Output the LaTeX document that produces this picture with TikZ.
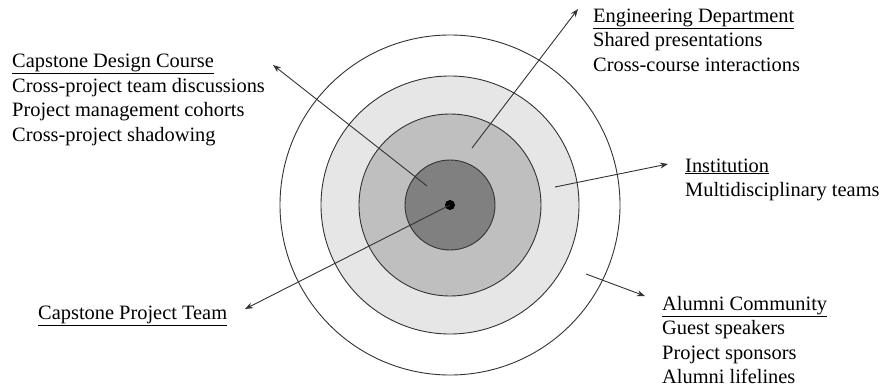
\documentclass[tikz,border=0pt]{standalone}
\usepackage{fontspec}
\setmainfont{Liberation Serif}
\usetikzlibrary{arrows.meta}
\definecolor{ringmid}{RGB}{230,230,230}
\definecolor{ringin}{RGB}{191,191,191}
\definecolor{ringcore}{RGB}{128,128,128}

\begin{document}
\begin{tikzpicture}[
    x=1pt, y=-1pt,
    ring/.style={draw=black!80, line width=0.9pt},
    lbl/.style={align=left, anchor=base west, inner sep=0pt,
                font=\fontsize{20.4}{24.5}\selectfont},
    pointer/.style={-{Stealth[length=8pt,width=6pt]}, line width=0.9pt,
                    color=black!80},
]
\useasboundingbox (0,0) rectangle (881,388);

% nested rings, outside in
\draw[ring, fill=white]    (450,205) circle[radius=170pt];
\draw[ring, fill=ringmid]  (450,205) circle[radius=129pt];
\draw[ring, fill=ringin]   (450,205) circle[radius=91pt];
\draw[ring, fill=ringcore] (450,205) circle[radius=45pt];
\node[circle, fill=black, minimum size=10pt, inner sep=0pt] (team) at (450,205) {};

% labels: base anchor sits on the last line
\node[lbl] (design) at (12,141)
     {\underline{Capstone Design Course}\\
      Cross-project team discussions\\
      Project management cohorts\\
      Cross-project shadowing};

\node[lbl] (dept) at (593,71)
     {\underline{Engineering Department}\\
      Shared presentations\\
      Cross-course interactions};

\node[lbl] (inst) at (685,196.5)
     {\underline{Institution}\\
      Multidisciplinary teams};

\node[lbl] (alumni) at (662,383.5)
     {\underline{Alumni Community}\\
      Guest speakers\\
      Project sponsors\\
      Alumni lifelines};

\node[lbl] (teamlbl) at (38,319) {\underline{Capstone Project Team}};

% arrow ends
\coordinate (designfrom) at (427,186);
\coordinate (designto)   at (273,65);
\coordinate (deptfrom)   at (472,148);
\coordinate (deptto)     at (578,9);
\coordinate (instfrom)   at (555,187);
\coordinate (instto)     at (668,164);
\coordinate (alumfrom)   at (586,274);
\coordinate (alumto)     at (645,296);
\coordinate (teamto)     at (245,309);

\draw[pointer] (designfrom) -- (designto);
\draw[pointer] (deptfrom) -- (deptto);
\draw[pointer] (instfrom) -- (instto);
\draw[pointer] (alumfrom) -- (alumto);
\draw[pointer] (team.center) -- (teamto);

\end{tikzpicture}
\end{document}
